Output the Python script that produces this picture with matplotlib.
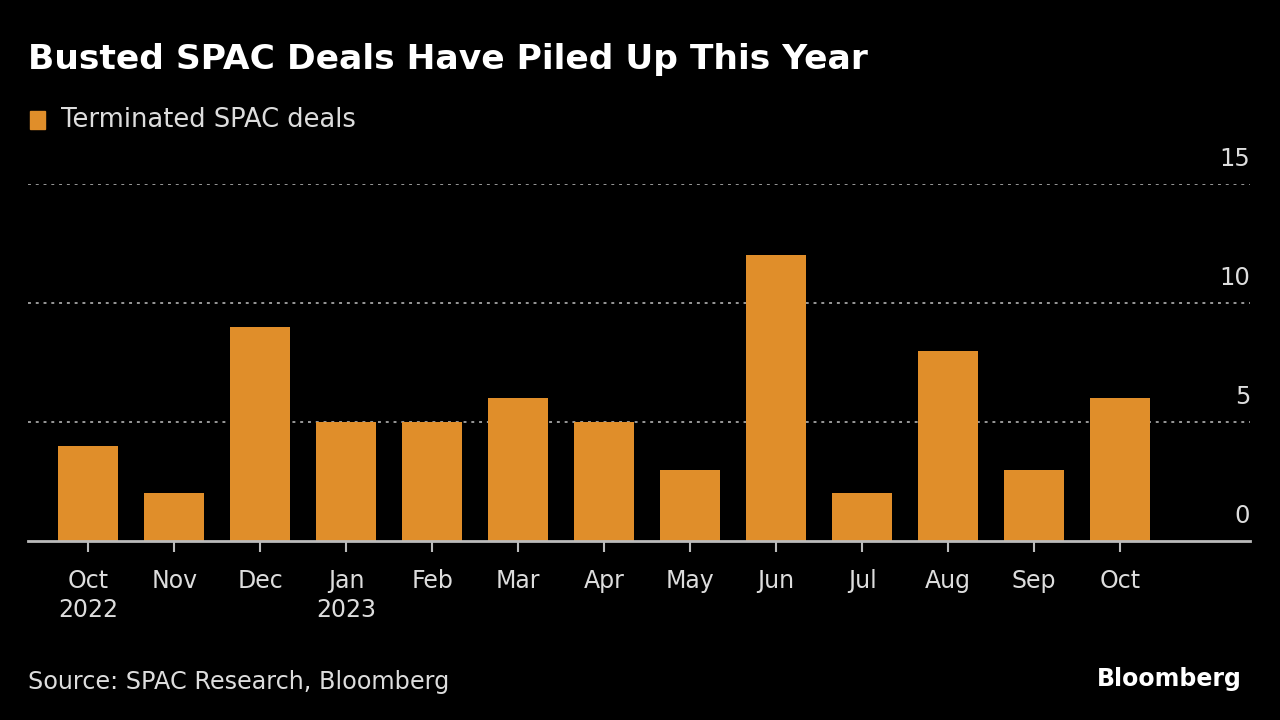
import numpy as np
import matplotlib.pyplot as plt
from matplotlib.patches import Rectangle

months = ['Oct\n2022', 'Nov', 'Dec', 'Jan\n2023', 'Feb', 'Mar', 'Apr',
          'May', 'Jun', 'Jul', 'Aug', 'Sep', 'Oct']
deals = [4, 2, 9, 5, 5, 6, 5, 3, 12, 2, 8, 3, 6]
yticks = [0, 5, 10, 15]

bar_c = '#E08E2A'
txt_c = '#DDDDDD'
plt.rcParams['font.family'] = ['DejaVu Sans']

fig = plt.figure(figsize=(12.8, 7.2), dpi=100, facecolor='black')
ax = fig.add_axes([0.0219, 0.2486, 0.9547, 0.4958])
ax.set_facecolor('black')

x = np.arange(len(deals))
ax.bar(x, deals, width=0.7, color=bar_c, zorder=3)

ax.set_xlim(-0.70, 13.51)
ax.set_ylim(0, 15)

for yv in yticks[1:]:
    ax.axhline(yv, color='#999999', ls=(0, (1.5, 2.5)), lw=1.4, zorder=1)
for yv in yticks:
    ax.text(1.0, yv + 0.55, str(yv), transform=ax.get_yaxis_transform(),
            ha='right', va='bottom', fontsize=17.5, color=txt_c)

for s in ['top', 'right', 'left']:
    ax.spines[s].set_visible(False)
ax.spines['bottom'].set_color('#BBBBBB')
ax.spines['bottom'].set_linewidth(2)
ax.spines['bottom'].set_zorder(4)

ax.set_yticks([])
ax.set_xticks(x)
ax.set_xticklabels(months, fontsize=17, color=txt_c, linespacing=1.3)
ax.tick_params(axis='x', length=8, width=1.5, color='#BBBBBB', pad=12)

fig.text(0.0219, 0.917, 'Busted SPAC Deals Have Piled Up This Year',
         fontsize=24.8, fontweight='bold', color='white', va='center', ha='left')
fig.patches.append(Rectangle((0.0234, 0.821), 0.0117, 0.025,
                             transform=fig.transFigure, color=bar_c))
fig.text(0.048, 0.833, 'Terminated SPAC deals', fontsize=18.5, color=txt_c,
         va='center', ha='left')
fig.text(0.0219, 0.053, 'Source: SPAC Research, Bloomberg', fontsize=17.2,
         color=txt_c, va='center', ha='left')
fig.text(0.970, 0.057, 'Bloomberg', fontsize=17, fontweight='bold',
         color='white', va='center', ha='right')

fig.savefig('out.png', dpi=100, facecolor='black')
